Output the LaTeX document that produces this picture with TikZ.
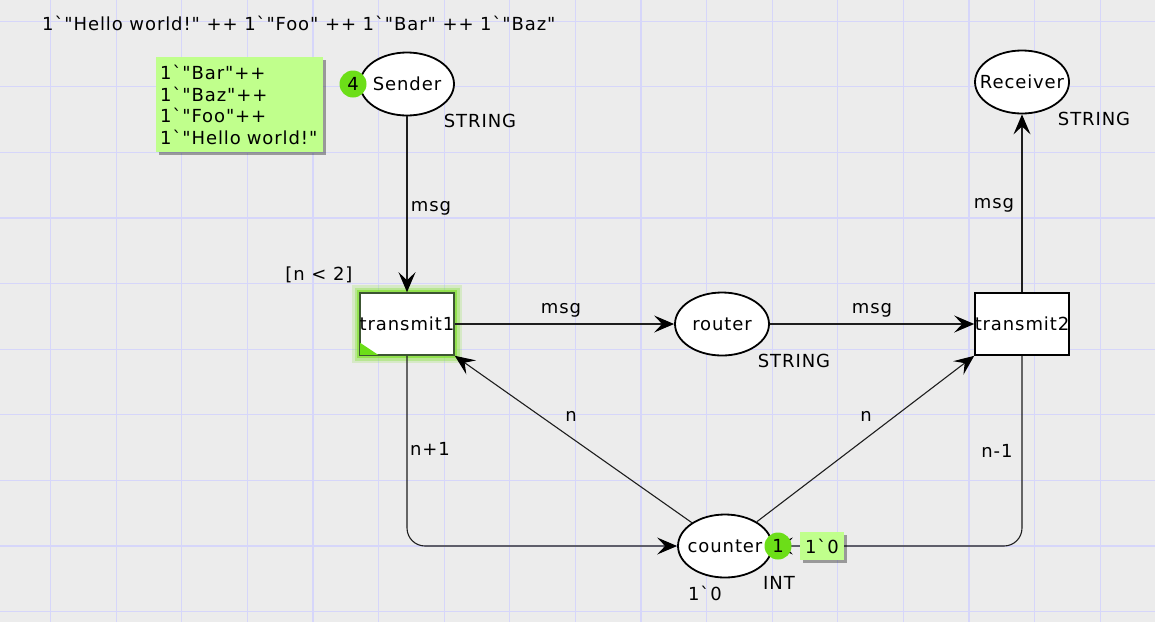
\documentclass[tikz,border=0pt]{standalone}
\usepackage{fontspec}
\setmainfont{DejaVu Sans}[Ligatures=TeXOff, LetterSpace=5]
\usetikzlibrary{arrows.meta,shapes.geometric,shadows}
\definecolor{bg}{RGB}{236,236,236}
\definecolor{gridc}{RGB}{214,214,250}
\definecolor{tokgreen}{RGB}{108,222,24}
\definecolor{markbox}{RGB}{192,255,140}
\definecolor{glow}{RGB}{130,225,50}
\definecolor{tborder}{RGB}{60,85,50}
\definecolor{arcc}{RGB}{30,30,30}
\begin{document}
\begin{tikzpicture}[x=1pt,y=-1pt,
  font=\fontsize{18}{21.5}\selectfont,
  placenode/.style={ellipse, draw=black, line width=1.8pt, fill=white, minimum width=94pt, minimum height=63pt, inner sep=0pt},
  transnode/.style={rectangle, draw=black, line width=1.6pt, fill=white, minimum width=94pt, minimum height=62pt, inner sep=0pt},
  glowing/.style={draw=tborder, preaction={draw=glow, line width=16pt, draw opacity=0.2}, preaction={draw=glow, line width=11pt, draw opacity=0.35}, preaction={draw=glow, line width=6pt, draw opacity=0.7}},
  arcline/.style={draw=arcc, line width=1.1pt, -{Stealth[length=20pt,width=17pt,inset=8pt,black]}},
  lbl/.style={inner sep=0pt, anchor=base},
  tok/.style={circle, fill=tokgreen, minimum size=27pt, inner sep=0pt},
  markboxst/.style={fill=markbox, inner sep=0pt, drop shadow={shadow xshift=3pt, shadow yshift=-3pt, fill=black, opacity=0.35}},
  gridline/.style={draw=gridc, line width=1.2pt}
]
\useasboundingbox (0,0) rectangle (1155,622);
\fill[bg] (0,0) rectangle (1155,622);
\foreach \i in {0,...,16} \draw[gridline] ({50.5+65.6*\i},0) -- ({50.5+65.6*\i},622);
\foreach \j in {0,...,9} \draw[gridline] (0,{21.1+65.6*\j}) -- (1155,{21.1+65.6*\j});

% top text
\node[inner sep=0pt, anchor=base west] (toptext) at (42,30) {1`"Hello world!" ++ 1`"Foo" ++ 1`"Bar" ++ 1`"Baz"};

% places and transitions
\node[placenode] (sender) at (407,84) {\makebox[0pt]{Sender}};
\node[placenode] (receiver) at (1022,82) {\makebox[0pt]{Receiver}};
\node[placenode] (router) at (722,324) {\makebox[0pt]{router}};
\node[placenode] (counter) at (725,546) {\makebox[0pt]{counter}};
\node[transnode, glowing] (t1) at (407,324) {\makebox[0pt]{transmit1}};
\node[transnode] (t2) at (1022,324) {\makebox[0pt]{transmit2}};
\fill[tokgreen] ([shift={(1,-1)}]t1.south west) -- ([shift={(1,-13)}]t1.south west) -- ([shift={(19,-1)}]t1.south west) -- cycle;

% arcs
\draw[arcline] (sender) -- (t1);
\draw[arcline] (t1) -- (router);
\draw[arcline] (router) -- (t2);
\draw[arcline] (t2) -- (receiver);
\draw[arcline] (counter) -- (t1.south east);
\draw[arcline] (counter) -- (t2.south west);
\draw[arcline, rounded corners=18pt] (t1.south) |- (counter.west);
\draw[arcline, rounded corners=18pt] (t2.south) |- (counter.east);

% labels
\node[lbl] (guard) at (319,280) {[n < 2]};
\node[lbl] (tySender) at (480,127.5) {STRING};
\node[lbl] (tyReceiver) at (1094,125) {STRING};
\node[lbl] (tyRouter) at (794,367) {STRING};
\node[lbl] (tyCounter) at (779,589) {INT};
\node[lbl] (initCounter) at (705,600) {1`0};
\node[lbl] (a1) at (431,211) {msg};
\node[lbl] (a2) at (561,313) {msg};
\node[lbl] (a3) at (872,313) {msg};
\node[lbl] (a4) at (994,208) {msg};
\node[lbl] (a5) at (571,421.5) {n};
\node[lbl] (a6) at (866,421.5) {n};
\node[lbl] (a7) at (430,455) {n+1};
\node[lbl] (a8) at (997,457) {n-1};

% markings
\node[markboxst, anchor=north west, minimum width=167pt, minimum height=95pt, text width=159pt, inner xsep=4pt, align=left] (mk4) at (156,57) {1`"Bar"++\\1`"Baz"++\\1`"Foo"++\\1`"Hello world!"};
\node[tok] (tok4) at (353,84) {4};
\node[tok] (tok1) at (778,546) {1};
\node[markboxst, minimum width=44pt, minimum height=28pt] (mk1) at (822,546) {1`0};
\end{tikzpicture}
\end{document}
